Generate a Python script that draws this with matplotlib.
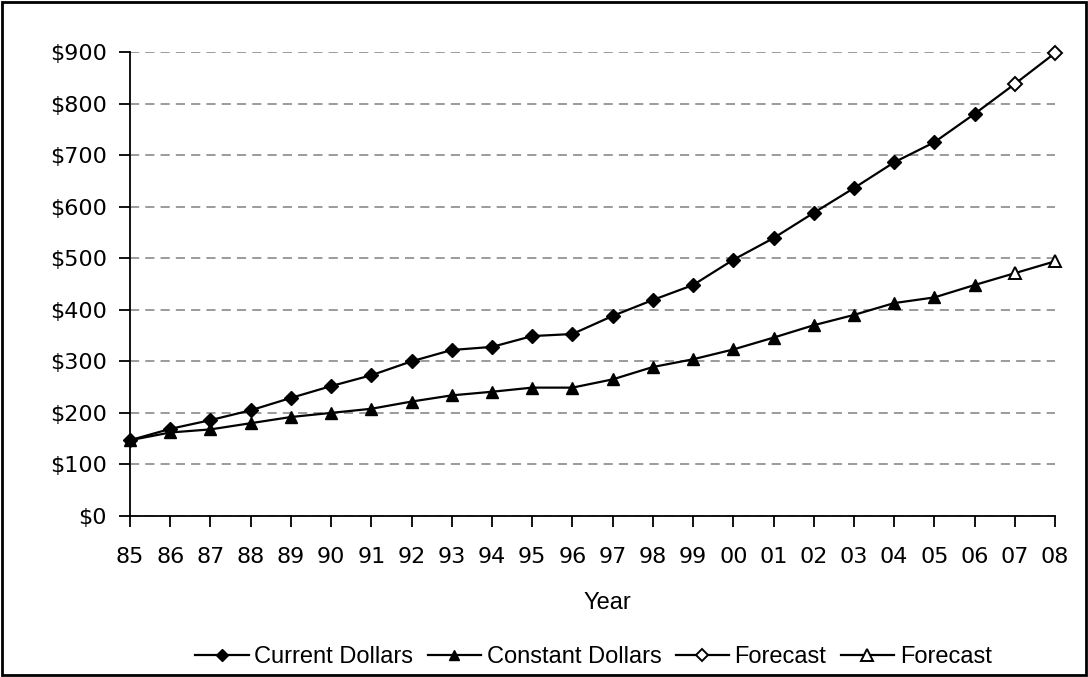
"""Current vs constant dollars, 1985-2008, with forecast years."""
import matplotlib
matplotlib.use("Agg")
import matplotlib.pyplot as plt
import numpy as np
from matplotlib.patches import Rectangle

YEARS = ["85", "86", "87", "88", "89", "90", "91", "92", "93", "94", "95", "96",
         "97", "98", "99", "00", "01", "02", "03", "04", "05", "06", "07", "08"]
CURRENT = [147, 169, 186, 205, 229, 252, 273, 300, 322, 328, 349, 353,
           388, 419, 448, 497, 539, 588, 636, 686, 725, 780]
CONSTANT = [147, 162, 168, 180, 192, 200, 208, 222, 234, 241, 249, 249,
            265, 289, 304, 323, 346, 370, 390, 413, 424, 448]
CURRENT_FC = [838, 898]
CONSTANT_FC = [471, 494]

TICK_FONT = "DejaVu Sans"
LABEL_FONT = "Liberation Sans"


def main() -> None:
    fig = plt.figure(figsize=(10.88, 6.77), dpi=100)
    ax = fig.add_axes([0.1195, 0.2378, 0.8502, 0.6854])
    x = np.arange(len(YEARS))
    n = len(CURRENT)

    style = dict(color="black", lw=1.6, clip_on=False, zorder=3)
    ax.plot(x[:n], CURRENT, marker="D", ms=7, mfc="black", mec="black",
            label="Current Dollars", **style)
    ax.plot(x[:n], CONSTANT, marker="^", ms=8, mfc="black", mec="black",
            label="Constant Dollars", **style)
    # forecast continues from the last actual year
    ax.plot(x[n - 1:], [CURRENT[-1]] + CURRENT_FC, marker="D", ms=7, mfc="white",
            mec="black", mew=1.4, markevery=[1, 2], label="Forecast", **style)
    ax.plot(x[n - 1:], [CONSTANT[-1]] + CONSTANT_FC, marker="^", ms=9, mfc="white",
            mec="black", mew=1.4, markevery=[1, 2], label="Forecast", **style)

    ax.set_xlim(0, len(YEARS) - 1)
    ax.set_ylim(0, 900)
    ax.set_yticks(range(0, 901, 100))
    ax.set_yticklabels([f"${v}" for v in range(0, 901, 100)])
    ax.set_xticks(x, YEARS)
    ax.tick_params(axis="both", direction="out", length=8, width=1.3, labelsize=16)
    ax.tick_params(axis="x", pad=14)
    ax.tick_params(axis="y", pad=8.5)
    for lab in ax.get_xticklabels() + ax.get_yticklabels():
        lab.set_fontfamily(TICK_FONT)

    ax.set_xlabel("Year", fontsize=17, family=LABEL_FONT, va="center")
    ax.xaxis.set_label_coords(0.516, -0.1875)
    for side in ("top", "right"):
        ax.spines[side].set_visible(False)
    for side in ("left", "bottom"):
        ax.spines[side].set_linewidth(1.3)
    ax.yaxis.grid(True, linestyle=(0, (6, 4)), color="#808080", lw=1.1)
    ax.set_axisbelow(True)

    ax.legend(loc="center", bbox_to_anchor=(0.501, -0.304), ncol=4,
              frameon=False, prop={"family": LABEL_FONT, "size": 17},
              handlelength=2.25, handletextpad=0.25, columnspacing=0.6,
              markerscale=0.9, borderpad=0, borderaxespad=0)

    fig.patches.append(Rectangle((0.002, 0.003), 0.996, 0.994, transform=fig.transFigure,
                                 fill=False, ec="black", lw=2))
    fig.savefig("out.png", dpi=100)
    plt.close(fig)


if __name__ == "__main__":
    main()
